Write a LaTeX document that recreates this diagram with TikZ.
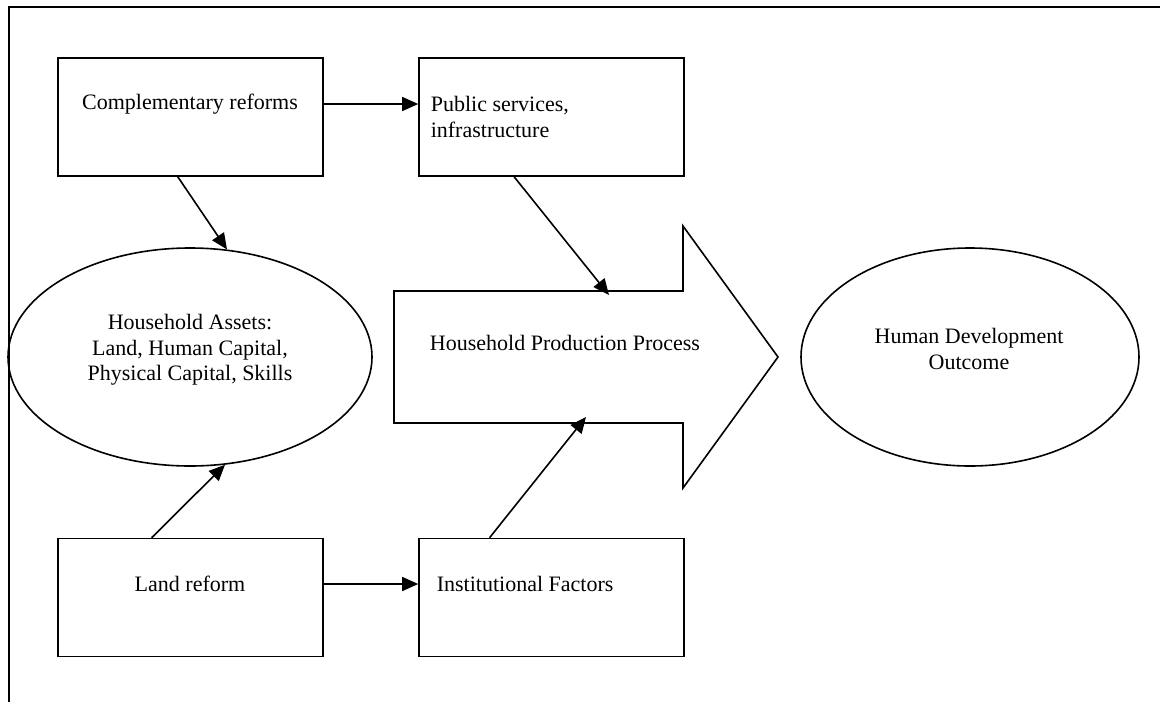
\documentclass[tikz,border=0pt]{standalone}
\usepackage{fontspec}
\setmainfont{Liberation Serif}
\usetikzlibrary{arrows.meta,shapes.geometric}

\begin{document}
\begin{tikzpicture}[x=1pt, y=-1pt, >={Triangle[length=16pt,width=14pt]}, line width=1.6pt,
		box/.style={draw, minimum width=265pt, minimum height=118pt, inner sep=0pt},
		oval/.style={draw, ellipse, inner sep=0pt, minimum height=218pt},
		txt/.style={font=\fontsize{22}{25.5}\selectfont, inner sep=0pt}]
		\useasboundingbox (0,0) rectangle (1160,702);
		\draw[line width=2pt] (1160,7) -- (9,7) -- (9,702);

		\node[box] (cr) at (190.5,117) {};
		\node[box] (ps) at (551.5,117) {};
		\node[box] (lr) at (190.5,597.5) {};
		\node[box] (inf) at (551.5,597.5) {};
		\node[oval, minimum width=364pt] (ha) at (190,357) {};
		\node[oval, minimum width=338pt] (hd) at (970,357) {};

		% production process arrow
		\draw (394,291) -- (683,291) -- (683,226) -- (778,357) -- (683,488) -- (683,423) -- (394,423) -- cycle;
		\coordinate (pt) at (609,295);
		\coordinate (pb) at (586,417);

		\node[txt] (crt) at (190,104) {Complementary reforms};
		\node[txt, anchor=west, align=left] (pst) at (430,117) {Public services,\\infrastructure};
		\node[txt, align=center] (hat) at (190,350) {Household Assets:\\Land, Human Capital,\\Physical Capital, Skills};
		\node[txt] (hpt) at (565,343) {Household Production Process};
		\node[txt, align=center] (hdt) at (969,349) {Human Development\\Outcome};
		\node[txt] (lrt) at (190,584) {Land reform};
		\node[txt, anchor=west] (inft) at (436,584) {Institutional Factors};

		\draw[->] ([yshift=13pt]cr.east) -- ([yshift=13pt]ps.west);
		\draw[->] ([yshift=13.5pt]lr.east) -- ([yshift=13.5pt]inf.west);
		\draw[->] (cr.-102) -- (ha.71);
		\draw[->] (lr.123) -- (ha.-72);
		\draw[->] (ps.-122) -- (pt);
		\draw[->] (inf.136) -- (pb);
	\end{tikzpicture}
\end{document}
